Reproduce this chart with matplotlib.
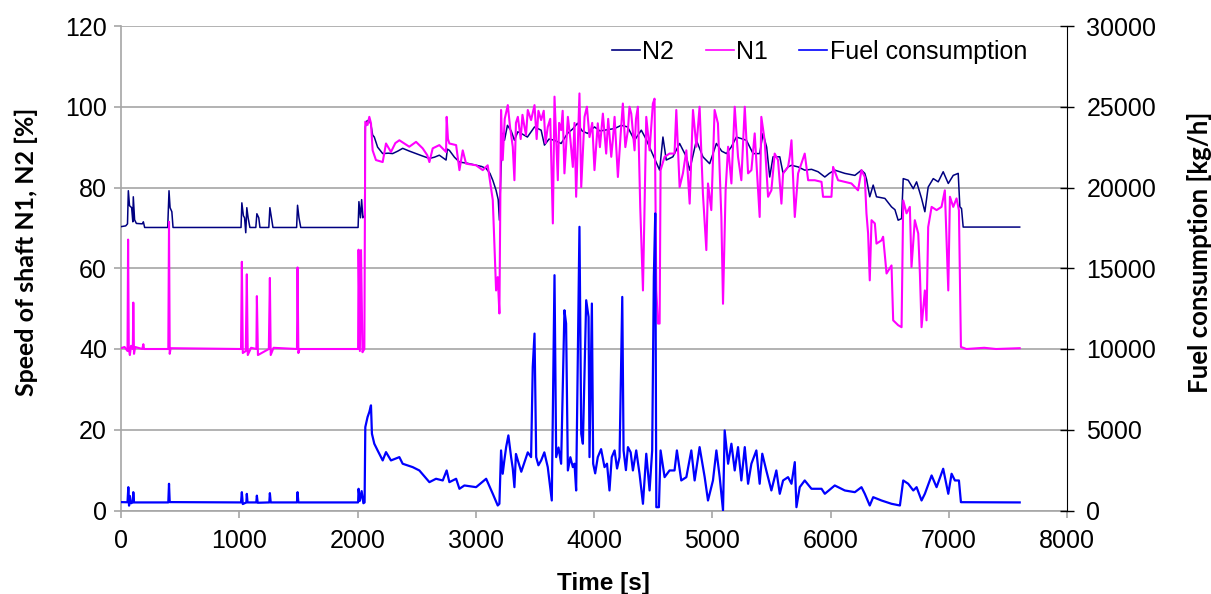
import matplotlib
matplotlib.use("Agg")
import matplotlib.pyplot as plt

# ---------------- data ----------------
t_n2 = [0, 40, 55, 62, 72, 90, 100, 104, 115, 130, 180, 189, 200, 395, 406, 415, 430, 440,
        1015, 1022, 1035, 1045, 1055, 1064, 1075, 1090, 1140, 1149, 1165, 1175, 1250, 1259, 1272, 1285,
        1485, 1493, 1505, 1520, 2005, 2012, 2025, 2035, 2045, 2060, 2066, 2080, 2100, 2114, 2128, 2142,
        2170, 2213, 2260, 2297, 2340, 2382, 2440, 2495, 2550, 2608, 2650, 2692, 2749, 2760, 2777, 2820,
        2862, 2930, 3003, 3050, 3088, 3120, 3144, 3172, 3190, 3200, 3214, 3228, 3243, 3268, 3300, 3327,
        3356, 3384, 3437, 3497, 3553, 3581, 3620, 3666, 3722, 3776, 3820, 3860, 3900, 3945, 4004, 4050,
        4089, 4174, 4230, 4284, 4343, 4400, 4440, 4470, 4500, 4530, 4555, 4583, 4611, 4667, 4724, 4781,
        4809, 4866, 4921, 4978, 5035, 5080, 5120, 5160, 5204, 5289, 5345, 5401, 5429, 5460, 5486, 5514,
        5571, 5599, 5641, 5670, 5726, 5782, 5840, 5895, 5952, 5990, 6036, 6121, 6206, 6262, 6290, 6305,
        6332, 6361, 6389, 6460, 6516, 6545, 6572, 6601, 6615, 6657, 6700, 6728, 6770, 6798, 6826, 6869,
        6911, 6953, 6996, 7038, 7080, 7094, 7108, 7122, 7600]
n2 = [70.3, 70.5, 71, 79.2, 75.5, 75, 71.5, 77.7, 72, 71.1, 71, 71.5, 70.1, 70.1, 79.2, 75, 74, 70.1,
      70.1, 76.2, 73, 72.5, 68.8, 75, 72.5, 70.1, 70.1, 73.5, 72.5, 70.1, 70.1, 75, 72.5, 70.1,
      70.1, 75.6, 72.5, 70.1, 70.1, 76.5, 72.5, 77, 72.5, 73, 95, 96.5, 96.7, 95.5, 93, 92.5,
      90, 88.4, 88.5, 88.4, 89, 89.7, 89, 88.4, 87.8, 87.2, 87.5, 88, 86.8, 89.5, 89.2, 87.5,
      86.3, 86, 85.5, 85.2, 84.7, 83.5, 81.8, 79.3, 77, 71.9, 85, 93.4, 91.7, 95.4, 94, 91.7,
      93.8, 93.4, 92.5, 95, 94.2, 90.5, 92, 91.7, 90.9, 93.4, 94.5, 95.9, 94, 93.4, 95, 94,
      94.2, 94.6, 95.4, 95, 91.7, 94.2, 92, 90, 88, 86, 84.3, 92.5, 86.8, 87.6, 90.9, 87.6,
      84.3, 91.7, 87.6, 85.9, 90.9, 89, 88.4, 90, 92.5, 91.7, 88.4, 88.4, 93.4, 90, 82.6, 87.6,
      87.6, 83.5, 85.1, 85.5, 85.1, 84.3, 84.5, 83.9, 82.6, 83.5, 84.3, 83.5, 83, 84.3, 83.5, 82,
      77.7, 80.6, 77.7, 77.3, 75.2, 74.5, 71.9, 72.3, 82.2, 81.8, 79.7, 81.4, 77.3, 74, 80.1, 82.2,
      81.4, 83.9, 81, 83, 83.5, 75.2, 74.8, 70.2, 70.2]

t_n1 = [0, 30, 55, 60, 66, 75, 85, 100, 104, 110, 120, 180, 189, 195, 400, 406, 412, 420,
        1015, 1022, 1030, 1055, 1064, 1072, 1100, 1145, 1149, 1158, 1250, 1259, 1266, 1290, 1488, 1493,
        1500, 1510, 2005, 2009, 2020, 2030, 2042, 2058, 2066, 2085, 2100, 2114, 2128, 2156, 2213, 2241,
        2283, 2320, 2354, 2396, 2438, 2495, 2551, 2590, 2608, 2636, 2692, 2749, 2754, 2765, 2777, 2834,
        2862, 2890, 2918, 3003, 3059, 3101, 3144, 3172, 3186, 3200, 3214, 3228, 3245, 3271, 3290, 3313,
        3327, 3340, 3356, 3380, 3395, 3412, 3425, 3440, 3468, 3497, 3515, 3530, 3553, 3575, 3590, 3609,
        3630, 3652, 3666, 3694, 3705, 3722, 3735, 3750, 3779, 3800, 3821, 3835, 3849, 3877, 3892, 3920,
        3940, 3962, 3985, 4004, 4032, 4050, 4075, 4103, 4120, 4146, 4160, 4174, 4202, 4225, 4244, 4265,
        4287, 4300, 4315, 4343, 4355, 4371, 4391, 4414, 4442, 4470, 4498, 4512, 4527, 4541, 4555, 4563,
        4597, 4639, 4681, 4696, 4724, 4752, 4781, 4809, 4837, 4866, 4893, 4921, 4950, 4964, 4992, 5020,
        5048, 5077, 5091, 5113, 5134, 5162, 5190, 5218, 5246, 5275, 5303, 5331, 5359, 5401, 5415, 5443,
        5472, 5500, 5528, 5556, 5585, 5599, 5641, 5655, 5670, 5698, 5726, 5782, 5811, 5867, 5924, 5937,
        6008, 6022, 6064, 6121, 6177, 6233, 6262, 6290, 6304, 6318, 6332, 6347, 6375, 6389, 6431, 6445,
        6474, 6516, 6530, 6572, 6601, 6615, 6643, 6671, 6685, 6713, 6742, 6756, 6770, 6798, 6812, 6826,
        6855, 6897, 6939, 6967, 6996, 7010, 7038, 7066, 7086, 7103, 7150, 7300, 7400, 7600]
n1 = [40.2, 40.5, 39.5, 67.1, 40, 38.5, 40.8, 40, 51.5, 38.8, 40.5, 40, 41.2, 40, 40, 71.5, 38.8, 40.2,
      40, 61.6, 39, 39.5, 58.5, 38.5, 40.3, 40, 53.1, 38.5, 40, 57.6, 38.5, 40.3, 40, 60.2,
      39, 40, 40, 64.6, 39.5, 64.5, 39.2, 40, 96.3, 95.5, 97.5, 95.9, 89.2, 86.8, 86.3, 90.9,
      88.8, 91, 91.7, 90.9, 90.1, 91.3, 89.7, 88, 86.3, 89.7, 90.5, 88.8, 97.5, 92, 90.9, 90.5,
      84.3, 89.2, 85.9, 85.5, 84.3, 85.5, 76.9, 54.5, 57.8, 48.8, 99.2, 86.8, 97, 100.4, 95, 90.1,
      81.8, 96, 97.5, 92, 98, 95, 93, 99.2, 96.7, 100.4, 92, 99, 96.7, 99, 91, 95,
      97, 71.1, 102.5, 81.8, 96, 94.2, 99, 83.5, 97.5, 92, 85.1, 96, 77.7, 103.3, 80.1, 97.5,
      100, 92.5, 96, 84.3, 95.9, 90, 98.3, 88.4, 97, 87.6, 92, 97.5, 82.6, 93, 100.8, 90,
      94.2, 100, 98.3, 89.2, 97, 100, 75.2, 54.5, 97.5, 89.2, 100.8, 102, 54.5, 46.3, 46.3, 84.3,
      87.6, 88.4, 88.4, 99.2, 80.1, 83.5, 89.2, 76, 99.2, 90.1, 100, 78.5, 64.5, 81, 74.4, 99.2,
      95.9, 72.7, 51.2, 79.3, 90.1, 81, 100, 87.6, 81.8, 100, 83.5, 84.3, 93.4, 72.7, 97.5, 91.7,
      77.7, 79.3, 88.4, 86.8, 76, 83.5, 85.1, 87.6, 91.7, 72.7, 83.5, 88.4, 81.8, 81.8, 81.4, 77.7,
      77.7, 85.1, 81.8, 81.4, 81, 79.3, 84.3, 82.6, 73.6, 68.6, 57, 71.9, 71.1, 66.1, 66.9, 67.8,
      58.7, 60.7, 47.1, 45.9, 45.4, 76.8, 73.6, 75.2, 60.3, 71.9, 68.6, 58.7, 45.4, 54.5, 47.1, 70.2,
      75.2, 74.4, 75.2, 79.3, 54.5, 77.7, 75.2, 77.3, 74.4, 40.5, 40, 40.3, 40, 40.2]

t_fuel = [0, 55, 62, 68, 75, 85, 100, 104, 110, 400, 406, 412, 1015, 1022, 1030, 1060, 1064, 1070,
          1144, 1149, 1156, 1254, 1259, 1266, 1488, 1493, 1500, 2005, 2009, 2020, 2035, 2050, 2060, 2066,
          2085, 2100, 2114, 2122, 2142, 2170, 2213, 2241, 2283, 2354, 2382, 2467, 2523, 2608, 2664, 2721,
          2754, 2777, 2834, 2862, 2904, 3003, 3088, 3144, 3186, 3200, 3214, 3228, 3240, 3257, 3276, 3299,
          3313, 3327, 3340, 3356, 3385, 3412, 3440, 3468, 3482, 3497, 3511, 3530, 3553, 3580, 3609, 3643,
          3666, 3680, 3700, 3722, 3750, 3764, 3779, 3800, 3821, 3835, 3849, 3877, 3892, 3906, 3934, 3954,
          3962, 3982, 3993, 4010, 4032, 4060, 4089, 4110, 4131, 4150, 4174, 4195, 4216, 4239, 4250, 4270,
          4287, 4310, 4329, 4357, 4385, 4414, 4442, 4470, 4492, 4506, 4518, 4527, 4549, 4563, 4597, 4639,
          4681, 4701, 4738, 4781, 4823, 4851, 4893, 4936, 4964, 5006, 5035, 5063, 5091, 5105, 5134, 5162,
          5190, 5218, 5246, 5275, 5303, 5331, 5373, 5401, 5423, 5457, 5500, 5542, 5571, 5599, 5641, 5670,
          5698, 5712, 5740, 5782, 5839, 5924, 5952, 6036, 6121, 6206, 6262, 6290, 6332, 6361, 6431, 6516,
          6587, 6615, 6657, 6700, 6728, 6770, 6798, 6855, 6897, 6953, 6996, 7024, 7052, 7086, 7103, 7600]
fuel = [520, 510, 1445, 300, 900, 450, 500, 1135, 500, 500, 1655, 520, 500, 1135, 400, 500, 1030, 500,
        500, 920, 480, 500, 1075, 500, 500, 1135, 500, 500, 1345, 600, 1200, 450, 500, 5165,
        5785, 6100, 6510, 4755, 4135, 3720, 3100, 3615, 3100, 3305, 2895, 2685, 2480, 1755, 1965, 1860,
        2480, 1755, 1965, 1345, 1550, 1445, 1965, 1035, 310, 415, 3720, 2275, 3000, 3925, 4650, 3305,
        2600, 1445, 3500, 3100, 2400, 2995, 3600, 3305, 8885, 10955, 3305, 2800, 3100, 3600, 2685, 620,
        14570, 3305, 3900, 2895, 12400, 11575, 2480, 3300, 2685, 2900, 1240, 17565, 4755, 4135, 13020, 11985,
        3305, 12815, 2895, 2300, 3305, 3800, 2685, 2900, 1240, 3300, 3720, 2600, 3305, 13225, 3720, 2500,
        3925, 3600, 2480, 3720, 2275, 415, 3515, 1240, 3720, 14465, 18395, 205, 205, 3720, 2065, 2480,
        2480, 3720, 1860, 2065, 3720, 1860, 3925, 2065, 620, 1860, 3720, 2065, 0, 4960, 2895, 4135,
        2480, 3925, 1860, 3925, 1655, 2895, 3720, 1655, 3515, 2480, 1240, 2480, 1035, 1860, 2065, 1655,
        2995, 205, 1445, 1860, 1345, 1345, 1035, 1550, 1240, 1135, 1445, 1035, 310, 825, 620, 415,
        310, 1860, 1655, 1240, 1445, 620, 1035, 2170, 1445, 2585, 1035, 2275, 1860, 1860, 515, 500]

x_ticks = [0, 1000, 2000, 3000, 4000, 5000, 6000, 7000, 8000]
left_ticks = [0, 20, 40, 60, 80, 100, 120]
right_ticks = [0, 5000, 10000, 15000, 20000, 25000, 30000]

# ---------------- figure ----------------
plt.rcParams['font.family'] = ['Liberation Sans', 'DejaVu Sans']
W, H = 1211, 594
fig = plt.figure(figsize=(W / 100, H / 100), dpi=100)
L, R, T, B = 121, 1067, 26, 510.5
ax = fig.add_axes([L / W, 1 - B / H, (R - L) / W, (B - T) / H])
ax2 = ax.twinx()

grid_c = '#A6A6A6'
ax.set_xlim(0, 8000)
ax.set_ylim(0, 120)
ax2.set_ylim(0, 30000)
ax.set_xticks(x_ticks)
ax.set_yticks(left_ticks)
ax2.set_yticks(right_ticks)
ax.yaxis.grid(True, color=grid_c, lw=1.2)
ax.set_axisbelow(True)

l_n2, = ax.plot(t_n2, n2, color='#000080', lw=1.1, label='N2', zorder=3)
l_n1, = ax.plot(t_n1, n1, color='#FF00FF', lw=1.5, label='N1', zorder=4)
l_f, = ax2.plot(t_fuel, fuel, color='#0000FF', lw=1.6, label='Fuel consumption', zorder=5)

ax.spines['top'].set_visible(False)
ax2.spines['top'].set_visible(False)
ax.spines['right'].set_visible(False)
ax.spines['left'].set_color(grid_c)
ax.spines['bottom'].set_color(grid_c)
ax2.spines['left'].set_visible(False)
ax2.spines['bottom'].set_visible(False)
ax2.spines['right'].set_color('black')
ax.spines['left'].set_linewidth(1.2)
ax.spines['bottom'].set_linewidth(1.2)

ax.tick_params(axis='y', labelsize=18, length=5, color=grid_c, width=1.2, pad=5)
ax.tick_params(axis='x', labelsize=18, length=5, color=grid_c, width=1.2, pad=8)
ax2.tick_params(axis='y', labelsize=18, length=10, direction='inout', color='black',
                width=1.0, pad=9)

fig.text(603 / W, 1 - 590 / H, 'Time [s]', ha='center', va='baseline',
         fontsize=17.5, fontweight='bold', family=['Liberation Sans', 'DejaVu Sans'])
fig.text(26 / W, 1 - 252 / H, 'Speed of shaft N1, N2 [%]', rotation=90, ha='center',
         va='center', fontsize=18, fontweight='bold', family=['Lato', 'DejaVu Sans'])
fig.text(1199 / W, 1 - 252 / H, 'Fuel consumption [kg/h]', rotation=90, ha='center',
         va='center', fontsize=18.5, fontweight='bold', family=['Lato', 'DejaVu Sans'])

leg = ax.legend(handles=[l_n2, l_n1, l_f], loc='center right', ncol=3, frameon=False,
                fontsize=18, handlelength=1.12, handletextpad=0.1, columnspacing=1.25,
                borderpad=0, borderaxespad=0,
                bbox_to_anchor=(1027 / W, 1 - 52 / H), bbox_transform=fig.transFigure)
for h in leg.get_lines():
    h.set_linewidth(1.2)
leg.set_zorder(10)

fig.savefig('out.png', dpi=100)
